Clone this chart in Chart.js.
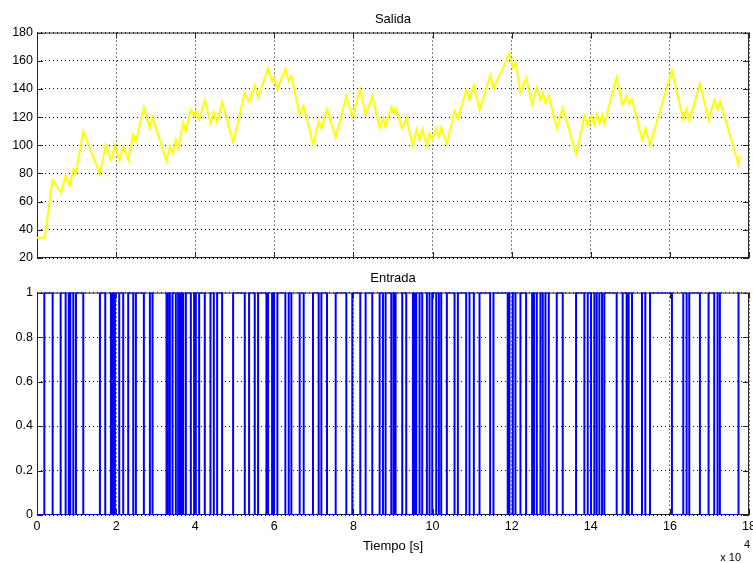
<!DOCTYPE html>
<html>
<head>
<meta charset="utf-8">
<script src="https://cdn.jsdelivr.net/npm/chart.js"></script>
<style>
  html, body { margin: 0; padding: 0; background: #fff; }
  .panel { position: absolute; left: 0; width: 753px; }
  #salidaWrap { top: 0; height: 270px; }
  #entradaWrap { top: 270px; height: 293px; }
</style>
</head>
<body>
<div class="panel" id="salidaWrap"><canvas id="salidaChart" width="753" height="270"></canvas></div>
<div class="panel" id="entradaWrap"><canvas id="entradaChart" width="753" height="293"></canvas></div>
<script>
// Salida: tiempo (x1e4 s) y valor
const salidaT = [0, 0.20, 0.39, 0.61, 0.72, 0.83, 0.92, 0.98, 1.17, 1.59, 1.73, 1.87, 1.97, 2.08, 2.18, 2.31, 2.43, 2.50, 2.70, 2.85,
  2.92, 3.27, 3.36, 3.43, 3.51, 3.57, 3.69, 3.76, 3.89, 3.97, 4.02, 4.10, 4.24, 4.39, 4.47, 4.55, 4.68, 4.96, 5.25, 5.36,
  5.50, 5.59, 5.84, 5.94, 5.99, 6.08, 6.28, 6.36, 6.43, 6.64, 6.74, 6.98, 7.12, 7.19, 7.33, 7.55, 7.82, 7.97, 8.17, 8.31,
  8.48, 8.66, 8.75, 8.81, 8.96, 9.02, 9.07, 9.23, 9.34, 9.50, 9.59, 9.67, 9.74, 9.86, 9.92, 9.99, 10.09, 10.16, 10.22, 10.36,
  10.56, 10.64, 10.85, 10.93, 11.04, 11.19, 11.46, 11.54, 11.94, 12.03, 12.10, 12.22, 12.37, 12.52, 12.63, 12.73, 12.79, 12.85, 12.94, 13.14,
  13.29, 13.63, 13.84, 13.92, 14.01, 14.09, 14.15, 14.22, 14.29, 14.34, 14.65, 14.80, 14.90, 14.96, 15.04, 15.30, 15.38, 15.50, 16.05, 16.34,
  16.42, 16.49, 16.76, 16.98, 17.12, 17.21, 17.27, 17.73, 17.77];
const salidaY = [34.3, 34.3, 75.2, 66.4, 78.3, 71.2, 83.1, 80.5, 109.8, 79.5, 100.2, 89.5, 99.8, 89, 99, 89.5, 107.4, 102.6, 127.1, 112,
  120, 89, 99, 94.3, 103.8, 97.9, 115.7, 109.8, 125.2, 121, 124, 118, 131.9, 115.7, 123.3, 116.2, 130.7, 101.9, 137, 131,
  142.4, 133.6, 154.5, 145.5, 147.9, 140, 154.3, 145.5, 149, 121.7, 128, 100.2, 117, 112, 125.7, 105.5, 134.8, 120, 139.5, 122.1,
  134.8, 112.1, 119.3, 112.6, 127.1, 122.9, 126.4, 112.1, 119.3, 99.5, 111, 103.8, 111.4, 99.5, 108.6, 103.8, 112.1, 106.2, 112.6, 101,
  124.5, 118.6, 139, 132.4, 142.4, 125.2, 149.5, 140, 165.2, 155, 158.6, 137.1, 147.9, 128.8, 140.7, 132.4, 137.1, 130, 135.2, 112.1,
  126.4, 93.8, 120.5, 113.8, 121, 114.5, 121.7, 115.7, 121.7, 115.2, 147.9, 128.8, 134.8, 129.5, 132.9, 103.8, 112.1, 100.2, 153.3, 118.1,
  125.7, 117.6, 143.8, 117.6, 132.4, 125.2, 131.2, 86.7, 92.4];

// Entrada: instantes (x1e4 s) en que la senal binaria cambia; empieza en 0
const entradaCambios = [0.185, 0.396, 0.598, 0.724, 0.791, 0.808, 0.842, 0.918, 0.985, 1.170,
  1.591, 1.726, 1.869, 1.895, 1.905, 1.930, 1.940, 1.970, 2.079, 2.180, 2.306, 2.433, 2.500, 2.702,
  2.854, 2.921, 3.274, 3.300, 3.310, 3.359, 3.426, 3.510, 3.569, 3.600, 3.615, 3.650, 3.660, 3.695,
  3.763, 3.889, 3.973, 4.015, 4.099, 4.242, 4.386, 4.470, 4.554, 4.680, 4.958, 5.253, 5.362, 5.505,
  5.589, 5.800, 5.815, 5.842, 5.943, 5.994, 6.077, 6.279, 6.364, 6.431, 6.641, 6.742, 6.978, 7.121,
  7.189, 7.332, 7.551, 7.820, 7.971, 8.173, 8.308, 8.476, 8.662, 8.746, 8.813, 8.956, 9.015, 9.066,
  9.234, 9.335, 9.503, 9.530, 9.545, 9.588, 9.672, 9.739, 9.857, 9.924, 9.992, 10.093, 10.160, 10.219,
  10.362, 10.556, 10.640, 10.850, 10.934, 11.044, 11.187, 11.456, 11.540, 11.900, 11.915, 11.944,
  12.029, 12.096, 12.222, 12.365, 12.517, 12.550, 12.565, 12.635, 12.727, 12.786, 12.854, 12.938,
  13.140, 13.291, 13.628, 13.838, 13.923, 14.007, 14.091, 14.150, 14.217, 14.285, 14.343, 14.655,
  14.806, 14.907, 14.958, 15.042, 15.295, 15.379, 15.497, 16.052, 16.338, 16.423, 16.490, 16.759,
  16.978, 17.121, 17.205, 17.264, 17.735];
const entradaFin = 17.77;

const xTicks = [0, 2, 4, 6, 8, 10, 12, 14, 16, 18];
const salidaTicks = [20, 40, 60, 80, 100, 120, 140, 160, 180];
const entradaTicks = [0, 0.2, 0.4, 0.6, 0.8, 1];

const FONT = "'Liberation Sans', Arial, Helvetica, sans-serif";

// Build step points for the binary input
function buildEntrada() {
  let v = 0;
  const pts = [{ x: 0, y: 0 }];
  entradaCambios.forEach(function(c) {
    pts.push({ x: c, y: v });
    v = 1 - v;
    pts.push({ x: c, y: v });
  });
  pts.push({ x: entradaFin, y: v });
  return pts;
}

// MATLAB-like box with inner tick marks
const marcoMatlab = {
  id: 'marcoMatlab',
  beforeDatasetsDraw(chart) {
    const ctx = chart.ctx;
    const a = chart.chartArea;
    const sx = chart.scales.x;
    const sy = chart.scales.y;
    ctx.save();
    ctx.strokeStyle = '#262626';
    ctx.lineWidth = 1;
    ctx.setLineDash([]);
    ctx.strokeRect(a.left + 0.5, a.top + 0.5, a.right - a.left - 1, a.bottom - a.top - 1);
    ctx.beginPath();
    sx.ticks.forEach(function(t) {
      const px = Math.round(sx.getPixelForValue(t.value)) + 0.5;
      ctx.moveTo(px, a.bottom); ctx.lineTo(px, a.bottom - 6);
      ctx.moveTo(px, a.top); ctx.lineTo(px, a.top + 6);
    });
    sy.ticks.forEach(function(t) {
      const py = Math.round(sy.getPixelForValue(t.value)) + 0.5;
      ctx.moveTo(a.left, py); ctx.lineTo(a.left + 6, py);
      ctx.moveTo(a.right, py); ctx.lineTo(a.right - 6, py);
    });
    ctx.stroke();
    ctx.restore();
  }
};

// Exponent label under the x axis
const exponente = {
  id: 'exponente',
  afterDraw(chart) {
    const ctx = chart.ctx;
    ctx.save();
    ctx.fillStyle = '#000';
    ctx.font = '11px ' + FONT;
    ctx.textAlign = 'right';
    ctx.textBaseline = 'middle';
    ctx.fillText('x 10', 741, 288);
    ctx.textAlign = 'left';
    ctx.fillText('4', 744, 275);
    ctx.restore();
  }
};

function baseOptions(titulo, yTicks, yMin, yMax, conEtiquetasX) {
  return {
    responsive: false,
    animation: false,
    layout: { padding: { left: 0, right: 4, top: 0, bottom: 0 } },
    plugins: {
      legend: { display: false },
      tooltip: { enabled: false },
      title: {
        display: true,
        text: titulo,
        fullSize: false,
        color: '#000',
        font: { family: FONT, size: 13, weight: 'normal' },
        padding: conEtiquetasX ? { top: 1, bottom: 6 } : { top: 12, bottom: 5 }
      }
    },
    scales: {
      x: {
        type: 'linear',
        min: 0,
        max: 18,
        afterBuildTicks: function(s) { s.ticks = xTicks.map(function(v) { return { value: v }; }); },
        afterFit: function(s) {
          s.height = conEtiquetasX ? 48 : 12;
          s.paddingLeft = 0;
          s.paddingRight = 0;
        },
        grid: { color: '#000', lineWidth: 1, drawTicks: false },
        border: { display: false, dash: [1, 3] },
        ticks: {
          display: conEtiquetasX,
          color: '#000',
          padding: 4,
          maxRotation: 0,
          autoSkip: false,
          font: { family: FONT, size: 12.5 },
          callback: function(v) { return String(v); }
        },
        title: {
          display: conEtiquetasX,
          text: 'Tiempo [s]',
          color: '#000',
          font: { family: FONT, size: 13 },
          padding: { top: 0, bottom: 9 }
        }
      },
      y: {
        min: yMin,
        max: yMax,
        afterBuildTicks: function(s) { s.ticks = yTicks.map(function(v) { return { value: v }; }); },
        afterFit: function(s) { s.width = 37; },
        grid: { color: '#000', lineWidth: 1, drawTicks: false },
        border: { display: false, dash: [1, 3] },
        ticks: {
          color: '#000',
          padding: 4,
          font: { family: FONT, size: 12.5 },
          callback: function(v) { return String(v); }
        }
      }
    }
  };
}

document.addEventListener('DOMContentLoaded', function() {
  // Salida chart
  new Chart(document.getElementById('salidaChart').getContext('2d'), {
    type: 'line',
    data: {
      datasets: [{
        data: salidaT.map(function(t, i) { return { x: t, y: salidaY[i] }; }),
        borderColor: '#ffff00',
        borderWidth: 2,
        pointRadius: 0,
        tension: 0,
        fill: false
      }]
    },
    options: baseOptions('Salida', salidaTicks, 20, 180, false),
    plugins: [marcoMatlab]
  });

  // Entrada chart
  new Chart(document.getElementById('entradaChart').getContext('2d'), {
    type: 'line',
    data: {
      datasets: [{
        data: buildEntrada(),
        borderColor: '#0000ff',
        borderWidth: 2,
        pointRadius: 0,
        tension: 0,
        fill: false
      }]
    },
    options: baseOptions('Entrada', entradaTicks, 0, 1, true),
    plugins: [marcoMatlab, exponente]
  });
});
</script>
</body>
</html>
